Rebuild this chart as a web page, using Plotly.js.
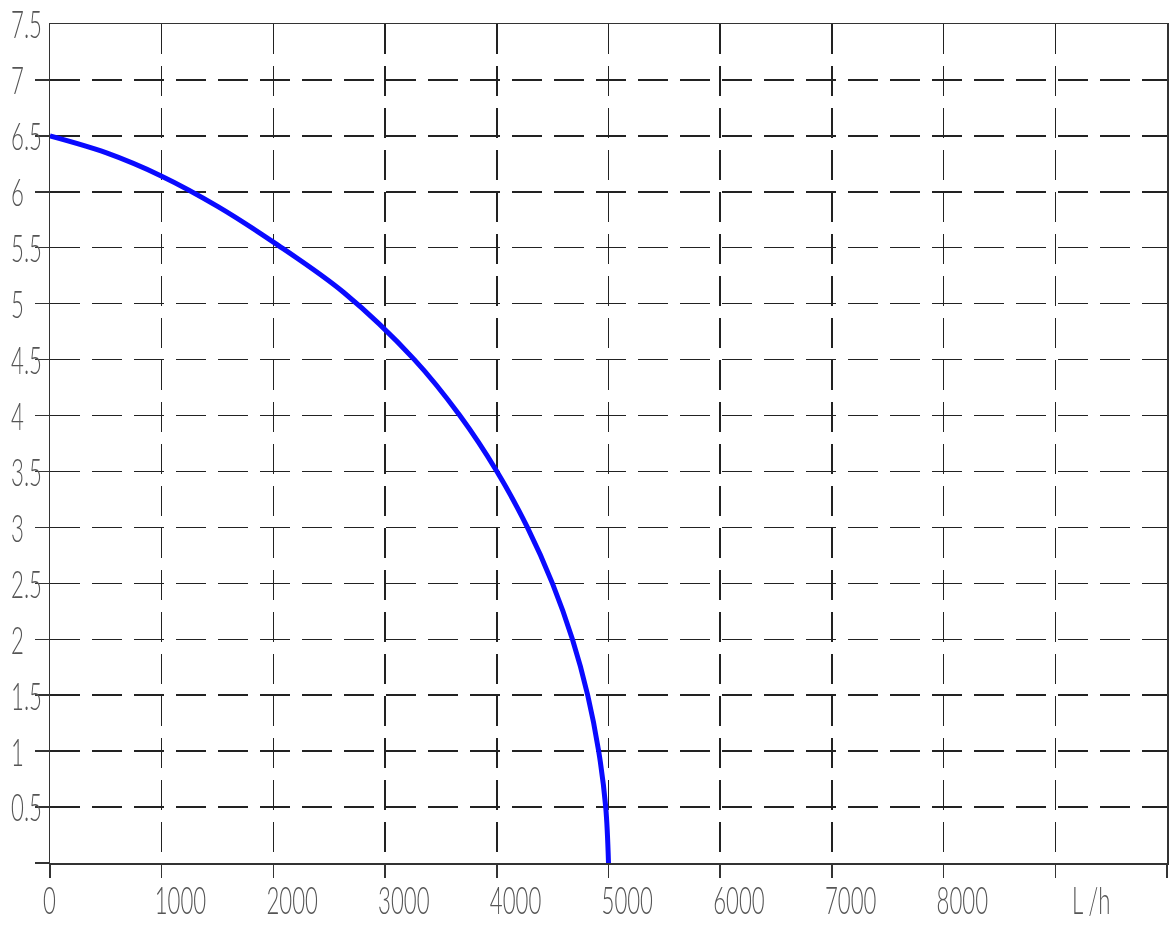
<!DOCTYPE html>
<html>
<head>
<meta charset="utf-8">
<script src="https://cdn.plot.ly/plotly-3.0.1.min.js"></script>
<style>html,body{margin:0;padding:0;background:#fff;}</style>
</head>
<body>
<svg width="0" height="0" style="position:absolute;left:0;top:0">
  <defs>
    <filter id="desat" color-interpolation-filters="sRGB" x="-20%" y="-20%" width="140%" height="140%">
      <feColorMatrix type="saturate" values="0"/>
    </filter>
  </defs>
</svg>
<div id="chart" style="width:1169px;height:927px;"></div>
<script>
// Pump curve: flow (L/h) vs head
var flow = [0, 500, 1000, 1500, 2000, 2630, 3262, 3669, 4001, 4274, 4498, 4677, 4814, 4912, 4975, 5000];
var head = [6.5, 6.35, 6.14, 5.87, 5.55, 5.10, 4.5, 4.0, 3.5, 3.0, 2.5, 2.0, 1.5, 1.0, 0.5, 0];

var xTickVals = [0, 1000, 2000, 3000, 4000, 5000, 6000, 7000, 8000, 9000, 10000];
var xTickText = ['0', '1000', '2000', '3000', '4000', '5000', '6000', '7000', '8000', '', ''];
var yTickVals = [0, 0.5, 1, 1.5, 2, 2.5, 3, 3.5, 4, 4.5, 5, 5.5, 6, 6.5, 7, 7.5];
var yTickText = ['', '0.5', '1', '1.5', '2', '2.5', '3', '3.5', '4', '4.5', '5', '5.5', '6', '6.5', '7', '7.5'];
var unitLabel = 'L /h';

var FS = 37;
var FAMILY = 'Lato, Liberation Sans, Arial, sans-serif';
var tickFont = {family: FAMILY, size: FS, color: '#555555', weight: 300};

var trace = {
  x: flow, y: head, type: 'scatter', mode: 'lines',
  line: {color: '#0a0aff', width: 5, shape: 'spline', smoothing: 1},
  hoverinfo: 'skip'
};

var layout = {
  width: 1169, height: 927,
  margin: {l: 50, r: 2, t: 24, b: 64, pad: 0},
  paper_bgcolor: '#ffffff', plot_bgcolor: '#ffffff',
  showlegend: false,
  xaxis: {
    range: [0, 10000], tickvals: xTickVals, ticktext: xTickText,
    ticks: 'outside', ticklen: 13, tickwidth: 1.5, tickcolor: '#333333',
    showline: true, linecolor: '#333333', linewidth: 1.5, mirror: true,
    showgrid: true, gridcolor: '#222222', gridwidth: 1.5, griddash: '30px,12px',
    zeroline: false, tickfont: tickFont, ticklabeloverflow: 'allow'
  },
  yaxis: {
    range: [0, 7.5], tickvals: yTickVals, ticktext: yTickText,
    ticks: 'outside', ticklen: 14, tickwidth: 1.5, tickcolor: '#333333',
    showline: true, linecolor: '#333333', linewidth: 1.5, mirror: true,
    showgrid: true, gridcolor: '#222222', gridwidth: 1.5, griddash: '30px,12px',
    zeroline: false, tickfont: tickFont, ticklabeloverflow: 'allow'
  },
  annotations: [{
    text: unitLabel, x: 9360, xref: 'x', y: 0, yref: 'paper',
    yanchor: 'top', xanchor: 'center', yshift: -20, showarrow: false,
    font: tickFont
  }]
};

// Narrow, CAD-like lettering: squeeze labels horizontally and place them
function condenseLabels(gd) {
  var SX = 0.6;
  var fl = gd._fullLayout, xa = fl.xaxis, ya = fl.yaxis;
  var ctx = document.createElement('canvas').getContext('2d');
  ctx.font = '300 ' + FS + 'px ' + FAMILY;
  var m = ctx.measureText('0');
  var fAsc = m.fontBoundingBoxAscent || FS * 0.95;
  var dAsc = m.actualBoundingBoxAscent || FS * 0.72;
  var inkTop = fAsc - dAsc;          // from text box top to digit top
  var inkMid = fAsc - dAsc / 2;      // from text box top to digit middle
  function scaleAbout(el, cx) {
    var t = el.getAttribute('transform') || '';
    el.setAttribute('transform', t + ' translate(' + cx + ',0) scale(' + SX + ',1) translate(' + (-cx) + ',0)');
  }
  function shift(el, dx, dy) {
    var t = el.getAttribute('transform') || '';
    el.setAttribute('transform', 'translate(' + dx + ',' + dy + ') ' + t);
  }
  function neutral(el) { el.setAttribute('filter', 'url(#desat)'); }
  var xTop = 888 - inkTop;
  gd.querySelectorAll('.xtick text').forEach(function (el) {
    if (!el.textContent) return;
    var bb = el.getBBox();
    scaleAbout(el, bb.x + bb.width / 2);
    var r = el.getBoundingClientRect();
    var px = xa._offset + xa.l2p(el.__data__.x);
    shift(el, (px - 7) - r.left, xTop - r.top);
    neutral(el);
  });
  gd.querySelectorAll('.ytick text').forEach(function (el) {
    if (!el.textContent) return;
    var bb = el.getBBox();
    scaleAbout(el, bb.x + bb.width);
    var r = el.getBoundingClientRect();
    var py = ya._offset + ya.l2p(el.__data__.x);
    shift(el, 11 - r.left, (py + 1.5 - inkMid) - r.top);
    neutral(el);
  });
  gd.querySelectorAll('.annotation-text').forEach(function (el) {
    var bb = el.getBBox();
    scaleAbout(el, bb.x + bb.width / 2);
    var r = el.getBoundingClientRect();
    shift(el, 1072 - r.left, xTop - r.top);
    neutral(el);
  });
  // the reference has no outside tick at the top of the y axis
  gd.querySelectorAll('path.ytick').forEach(function (p) {
    if (p.__data__ && p.__data__.x === 7.5) p.style.display = 'none';
  });
}

Plotly.newPlot('chart', [trace], layout, {displayModeBar: false, staticPlot: true}).then(condenseLabels);
</script>
</body>
</html>
